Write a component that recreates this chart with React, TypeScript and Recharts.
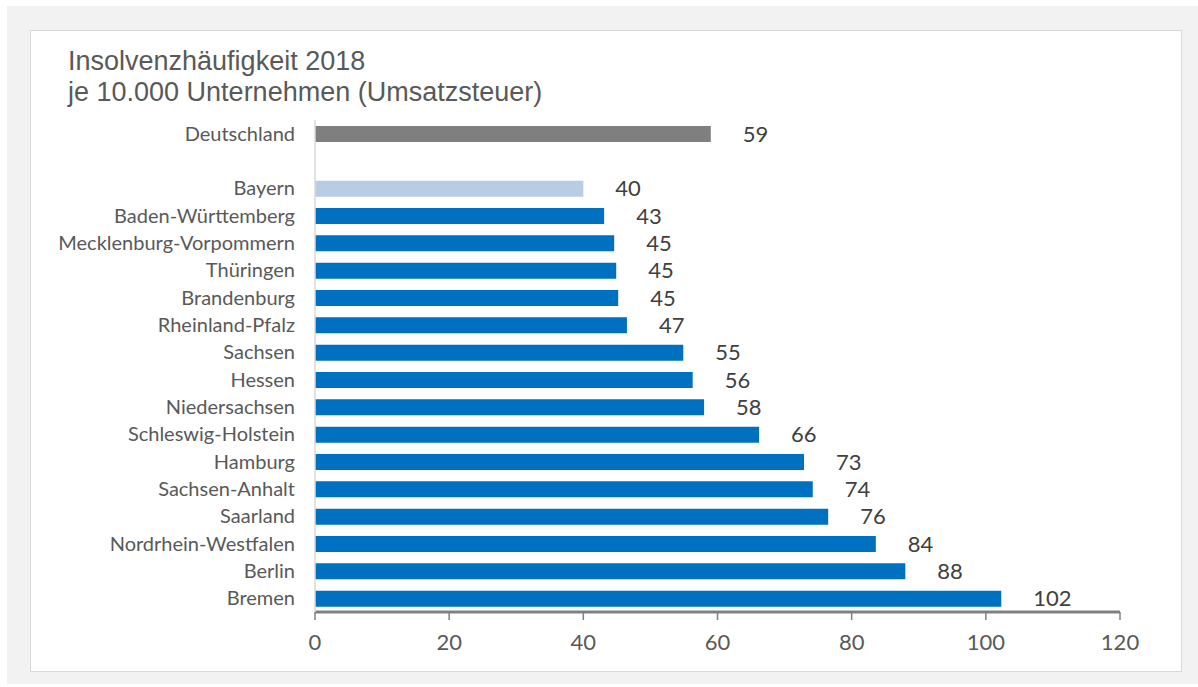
import React from 'react';
import { BarChart, Bar, XAxis, YAxis, Cell, LabelList } from 'recharts';

const categories = [
  'Deutschland', '', 'Bayern', 'Baden-Württemberg', 'Mecklenburg-Vorpommern', 'Thüringen',
  'Brandenburg', 'Rheinland-Pfalz', 'Sachsen', 'Hessen', 'Niedersachsen', 'Schleswig-Holstein',
  'Hamburg', 'Sachsen-Anhalt', 'Saarland', 'Nordrhein-Westfalen', 'Berlin', 'Bremen',
];
const values: (number | null)[] = [
  59.0, null, 40.0, 43.1, 44.6, 44.9, 45.2, 46.5, 54.9, 56.3, 58.0, 66.2, 72.9, 74.2, 76.5, 83.6, 88.0, 102.3,
];
const valueLabels = ['59', '', '40', '43', '45', '45', '45', '47', '55', '56', '58', '66', '73', '74', '76', '84', '88', '102'];
const xTicks = [0, 20, 40, 60, 80, 100, 120];

const titleLines = ['Insolvenzhäufigkeit 2018', 'je 10.000 Unternehmen (Umsatzsteuer)'];

const data = categories.map((name, i) => ({ name, value: values[i], label: valueLabels[i] }));

const colorFor = (name: string) =>
  name === 'Deutschland' ? '#7F7F7F' : name === 'Bayern' ? '#B8CCE4' : '#0070C0';

const LABEL_FONT = 'Lato, "Open Sans", sans-serif';

export default function App() {
  return (
    <div style={{ position: 'absolute', left: 0, top: 0, width: 1198, height: 687 }}>
      <div style={{ position: 'absolute', left: 7, top: 6, width: 1191, height: 678, background: '#F2F2F2' }} />
      <div
        style={{
          position: 'absolute', left: 30, top: 30, width: 1150, height: 640,
          background: '#FFFFFF', border: '1px solid #D9D9D9',
        }}
      />
      <div style={{ position: 'absolute', left: 0, top: 0 }}>
        <BarChart
          width={1198}
          height={687}
          data={data}
          layout="vertical"
          margin={{ top: 120, right: 78, bottom: 15, left: 0 }}
        >
          <XAxis
            type="number"
            domain={[0, 120]}
            ticks={xTicks}
            height={60}
            axisLine={{ stroke: '#808080', strokeWidth: 3 }}
            tickLine={{ stroke: '#808080', strokeWidth: 1.5 }}
            tickSize={8}
            tickMargin={14}
            tick={{ fill: '#595959', fontSize: 22, fontFamily: LABEL_FONT }}
          />
          <YAxis
            type="category"
            dataKey="name"
            width={315}
            tickLine={false}
            tickSize={0}
            tickMargin={20}
            interval={0}
            axisLine={{ stroke: '#D9D9D9', strokeWidth: 1.5 }}
            tick={{ fill: '#595959', fontSize: 20, fontFamily: LABEL_FONT }}
          />
          <Bar dataKey="value" barSize={16} isAnimationActive={false}>
            {data.map((d, i) => (
              <Cell key={i} fill={colorFor(d.name)} />
            ))}
            <LabelList
              dataKey="label"
              position="right"
              offset={32}
              fill="#404040"
              fontSize={22}
              fontFamily={LABEL_FONT}
            />
          </Bar>
        </BarChart>
      </div>
      <div
        style={{
          position: 'absolute', left: 68, top: 46, fontFamily: '"Liberation Sans", Arial, sans-serif',
          fontSize: 27, lineHeight: '31px', color: '#595959', whiteSpace: 'nowrap',
        }}
      >
        {titleLines.map((t, i) => (
          <div key={i}>{t}</div>
        ))}
      </div>
    </div>
  );
}
